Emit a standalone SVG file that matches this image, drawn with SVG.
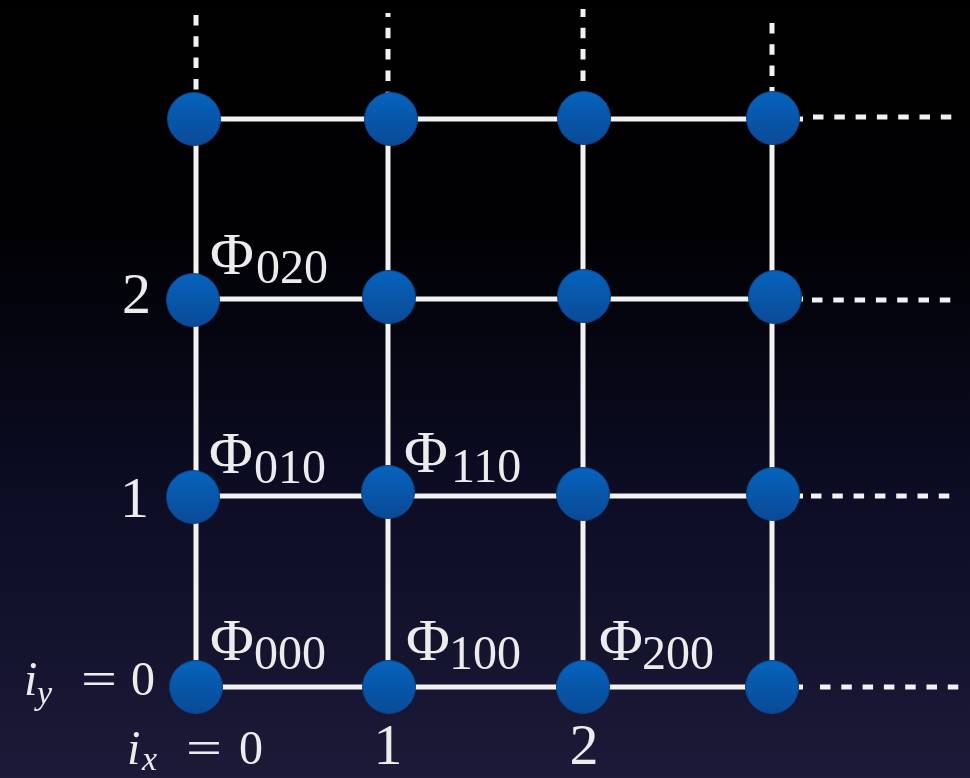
<svg xmlns="http://www.w3.org/2000/svg" width="970" height="778" viewBox="0 0 970 778">
<defs>
<linearGradient id="bg" x1="0" y1="0" x2="0" y2="1">
<stop offset="0" stop-color="#000000"/>
<stop offset="0.3" stop-color="#010104"/>
<stop offset="0.6" stop-color="#0b0b22"/>
<stop offset="1" stop-color="#1c1a38"/>
</linearGradient>
<linearGradient id="nodeGrad" x1="0" y1="0" x2="0" y2="1">
<stop offset="0" stop-color="#0563bd"/>
<stop offset="1" stop-color="#0b4a97"/>
</linearGradient>
<filter id="glow" x="-20%" y="-20%" width="140%" height="140%">
<feGaussianBlur stdDeviation="0.6"/>
</filter>
</defs>
<style>
.edge{stroke:#f2f2f2;stroke-width:5;fill:none}
.dash{stroke:#f2f2f2;stroke-width:5;fill:none;stroke-dasharray:10.5 10.8}
.node{fill:url(#nodeGrad);stroke:#0a4388;stroke-width:1}
.t{font-family:"Liberation Serif","Times New Roman",serif;fill:#ececec}
.phi{font-size:60px}
.sub{font-size:48px}
.num{font-size:58px}
.eq{font-size:48px}
.it{font-style:italic}
.isub{font-size:34px;font-style:italic}
</style>
<rect width="970" height="778" fill="url(#bg)"/>
<g id="connectors">
<line class="edge" x1="196" y1="119" x2="803" y2="119"/>
<line class="edge" x1="196" y1="299" x2="803" y2="299"/>
<line class="edge" x1="196" y1="496" x2="803" y2="496"/>
<line class="edge" x1="196" y1="687" x2="803" y2="687"/>
<line class="edge" x1="196" y1="119" x2="196" y2="687"/>
<line class="edge" x1="388" y1="119" x2="388" y2="687"/>
<line class="edge" x1="583" y1="119" x2="583" y2="687"/>
<line class="edge" x1="772" y1="119" x2="772" y2="687"/>
<line class="dash" x1="196" y1="15" x2="196" y2="93"/>
<line class="dash" x1="388" y1="13" x2="388" y2="93" stroke-dashoffset="6.5"/>
<line class="dash" x1="583" y1="9" x2="583" y2="93" stroke-dashoffset="2.5"/>
<line class="dash" x1="772" y1="23" x2="772" y2="93"/>
<line class="dash" x1="813" y1="117" x2="952" y2="117"/>
<line class="dash" x1="812" y1="300" x2="952" y2="300"/>
<line class="dash" x1="811" y1="496" x2="952" y2="496"/>
<line class="dash" x1="820" y1="687" x2="960" y2="687"/>
</g>
<g id="n00"><circle class="node" cx="194" cy="119" r="26.5"/></g>
<g id="n10"><circle class="node" cx="391" cy="119" r="26.5"/></g>
<g id="n20"><circle class="node" cx="584" cy="118" r="26.5"/></g>
<g id="n30"><circle class="node" cx="773" cy="118" r="26.5"/></g>
<g id="n01"><circle class="node" cx="193" cy="300" r="26.5"/></g>
<g id="n11"><circle class="node" cx="389" cy="297" r="26.5"/></g>
<g id="n21"><circle class="node" cx="584" cy="296" r="26.5"/></g>
<g id="n31"><circle class="node" cx="775" cy="297" r="26.5"/></g>
<g id="n02"><circle class="node" cx="193" cy="497" r="26.5"/></g>
<g id="n12"><circle class="node" cx="388" cy="492" r="26.5"/></g>
<g id="n22"><circle class="node" cx="583" cy="494" r="26.5"/></g>
<g id="n32"><circle class="node" cx="773" cy="494" r="26.5"/></g>
<g id="n03"><circle class="node" cx="196" cy="687" r="26.5"/></g>
<g id="n13"><circle class="node" cx="389" cy="687" r="26.5"/></g>
<g id="n23"><circle class="node" cx="583" cy="687" r="26.5"/></g>
<g id="n33"><circle class="node" cx="772" cy="687" r="26.5"/></g>
<g id="labels" filter="url(#glow)">
<text class="t phi" x="210" y="274">Φ</text><text class="t sub" x="256" y="283">020</text>
<text class="t phi" x="209" y="473">Φ</text><text class="t sub" x="254" y="483">010</text>
<text class="t phi" x="404" y="472">Φ</text><text class="t sub" x="451" y="482">110</text>
<text class="t phi" x="210" y="660">Φ</text><text class="t sub" x="254" y="669">000</text>
<text class="t phi" x="406" y="660">Φ</text><text class="t sub" x="449" y="669">100</text>
<text class="t phi" x="599" y="660">Φ</text><text class="t sub" x="642" y="669">200</text>
<text class="t num" x="151" y="313" text-anchor="end">2</text>
<text class="t num" x="149" y="517" text-anchor="end">1</text>
<text class="t num" x="388" y="764" text-anchor="middle">1</text>
<text class="t num" x="584" y="764" text-anchor="middle">2</text>
<text class="t eq it" x="24" y="695">i</text><text class="t isub" x="37" y="704">y</text>
<text class="t eq" x="81" y="695" textLength="36" lengthAdjust="spacingAndGlyphs">=</text>
<text class="t eq" x="131" y="695">0</text>
<text class="t eq it" x="127" y="764">i</text><text class="t isub" x="142" y="770">x</text>
<text class="t eq" x="186" y="764" textLength="36" lengthAdjust="spacingAndGlyphs">=</text>
<text class="t eq" x="239" y="764">0</text>
</g>
</svg>
